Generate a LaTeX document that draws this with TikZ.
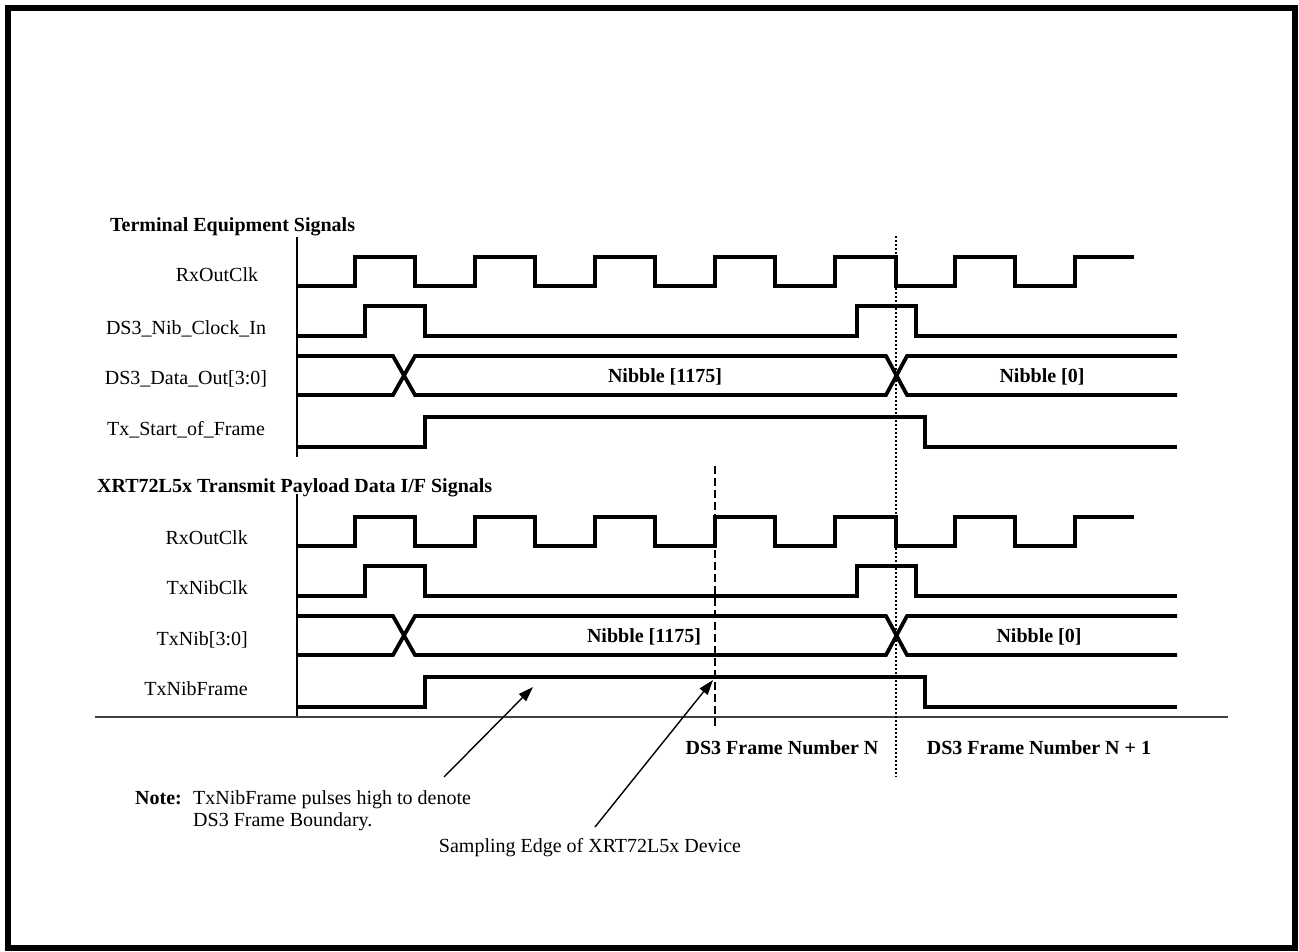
\documentclass[tikz,border=0pt]{standalone}
\usepackage{fontspec}
\setmainfont{Liberation Serif}
\usetikzlibrary{arrows.meta}
\begin{document}
\begin{tikzpicture}[x=1pt,y=-1pt,
  sig/.style={line width=3.8pt, line join=miter},
  lbl/.style={font=\fontsize{20}{24}\selectfont, inner sep=0pt, anchor=base},
  blbl/.style={font=\fontsize{20}{24}\selectfont\bfseries, inner sep=0pt, anchor=base},
  ptr/.style={line width=1.4pt, -{Triangle[length=15pt,width=10pt]}},
  axisline/.style={line width=1.5pt},
]
\useasboundingbox (0,0) rectangle (1299,952);
\draw[line width=6pt] (8,8) rectangle (1295,948);

% section headers
\node[blbl, anchor=base west] (hdrA) at (110,232) {Terminal Equipment Signals};
\node[blbl, anchor=base west] (hdrB) at (97,492) {XRT72L5x Transmit Payload Data I/F Signals};

% axes and baseline
\draw[axisline] (297,237) -- (297,457);
\draw[axisline] (297,494) -- (297,717);
\draw[line width=2pt, black!75] (95,717) -- (1228,717);

% waveforms (two identical sets)
\foreach \s in {0,260}{
\begin{scope}[shift={(0,\s)}]
\draw[sig] (297,286) -- (355,286) -- (355,257) -- (415,257) -- (415,286) -- (475,286) -- (475,257) -- (535,257) -- (535,286) -- (595,286) -- (595,257) -- (655,257) -- (655,286) -- (715,286) -- (715,257) -- (775,257) -- (775,286) -- (835,286) -- (835,257) -- (896,257) -- (896,286) -- (955,286) -- (955,257) -- (1015,257) -- (1015,286) -- (1075,286) -- (1075,257) -- (1134,257);
\draw[sig] (297,336) -- (365,336) -- (365,306) -- (425,306) -- (425,336) -- (857,336) -- (857,306) -- (916,306) -- (916,336) -- (1177,336);
\draw[sig] (297,356) -- (393,356) -- (415,395) -- (886,395) -- (907,356) -- (1177,356);
\draw[sig] (297,395) -- (393,395) -- (415,356) -- (886,356) -- (907,395) -- (1177,395);
\draw[sig] (297,447) -- (425,447) -- (425,417) -- (925,417) -- (925,447) -- (1177,447);
\end{scope}
}

% signal labels
\node[lbl] (l1) at (217,282) {RxOutClk};
\node[lbl] (l2) at (186,334) {DS3\_Nib\_Clock\_In};
\node[lbl] (l3) at (186,384) {DS3\_Data\_Out[3:0]};
\node[lbl] (l4) at (186,435) {Tx\_Start\_of\_Frame};
\node[lbl, anchor=base east] (l5) at (248,544) {RxOutClk};
\node[lbl, anchor=base east] (l6) at (248,594) {TxNibClk};
\node[lbl, anchor=base east] (l7) at (248,645) {TxNib[3:0]};
\node[lbl, anchor=base east] (l8) at (248,695) {TxNibFrame};

\node[blbl] (n1) at (665,382) {Nibble [1175]};
\node[blbl] (n2) at (1042,382) {Nibble [0]};
\node[blbl] (n3) at (644,642) {Nibble [1175]};
\node[blbl] (n4) at (1039,642) {Nibble [0]};

% frame boundaries
\draw[line width=2pt, dash pattern=on 2pt off 2pt] (896,236) -- (896,777);
\draw[line width=1.5pt, dash pattern=on 8pt off 4pt] (715,466) -- (715,727);

\node[blbl] (fN) at (782,754) {DS3 Frame Number N};
\node[blbl] (fN1) at (1039,754) {DS3 Frame Number N + 1};

% notes
\node[blbl, anchor=base west] (noteh) at (135,804) {Note:};
\node[lbl, anchor=base west] (note1) at (193,804) {TxNibFrame pulses high to denote};
\node[lbl, anchor=base west] (note2) at (193,826) {DS3 Frame Boundary.};
\node[lbl] (samp) at (590,852) {Sampling Edge of XRT72L5x Device};

\coordinate (t1) at (444,777);
\coordinate (h1) at (533,687);
\coordinate (t2) at (595,827);
\coordinate (h2) at (713,680);
\draw[ptr] (t1) -- (h1);
\draw[ptr] (t2) -- (h2);
\end{tikzpicture}
\end{document}
